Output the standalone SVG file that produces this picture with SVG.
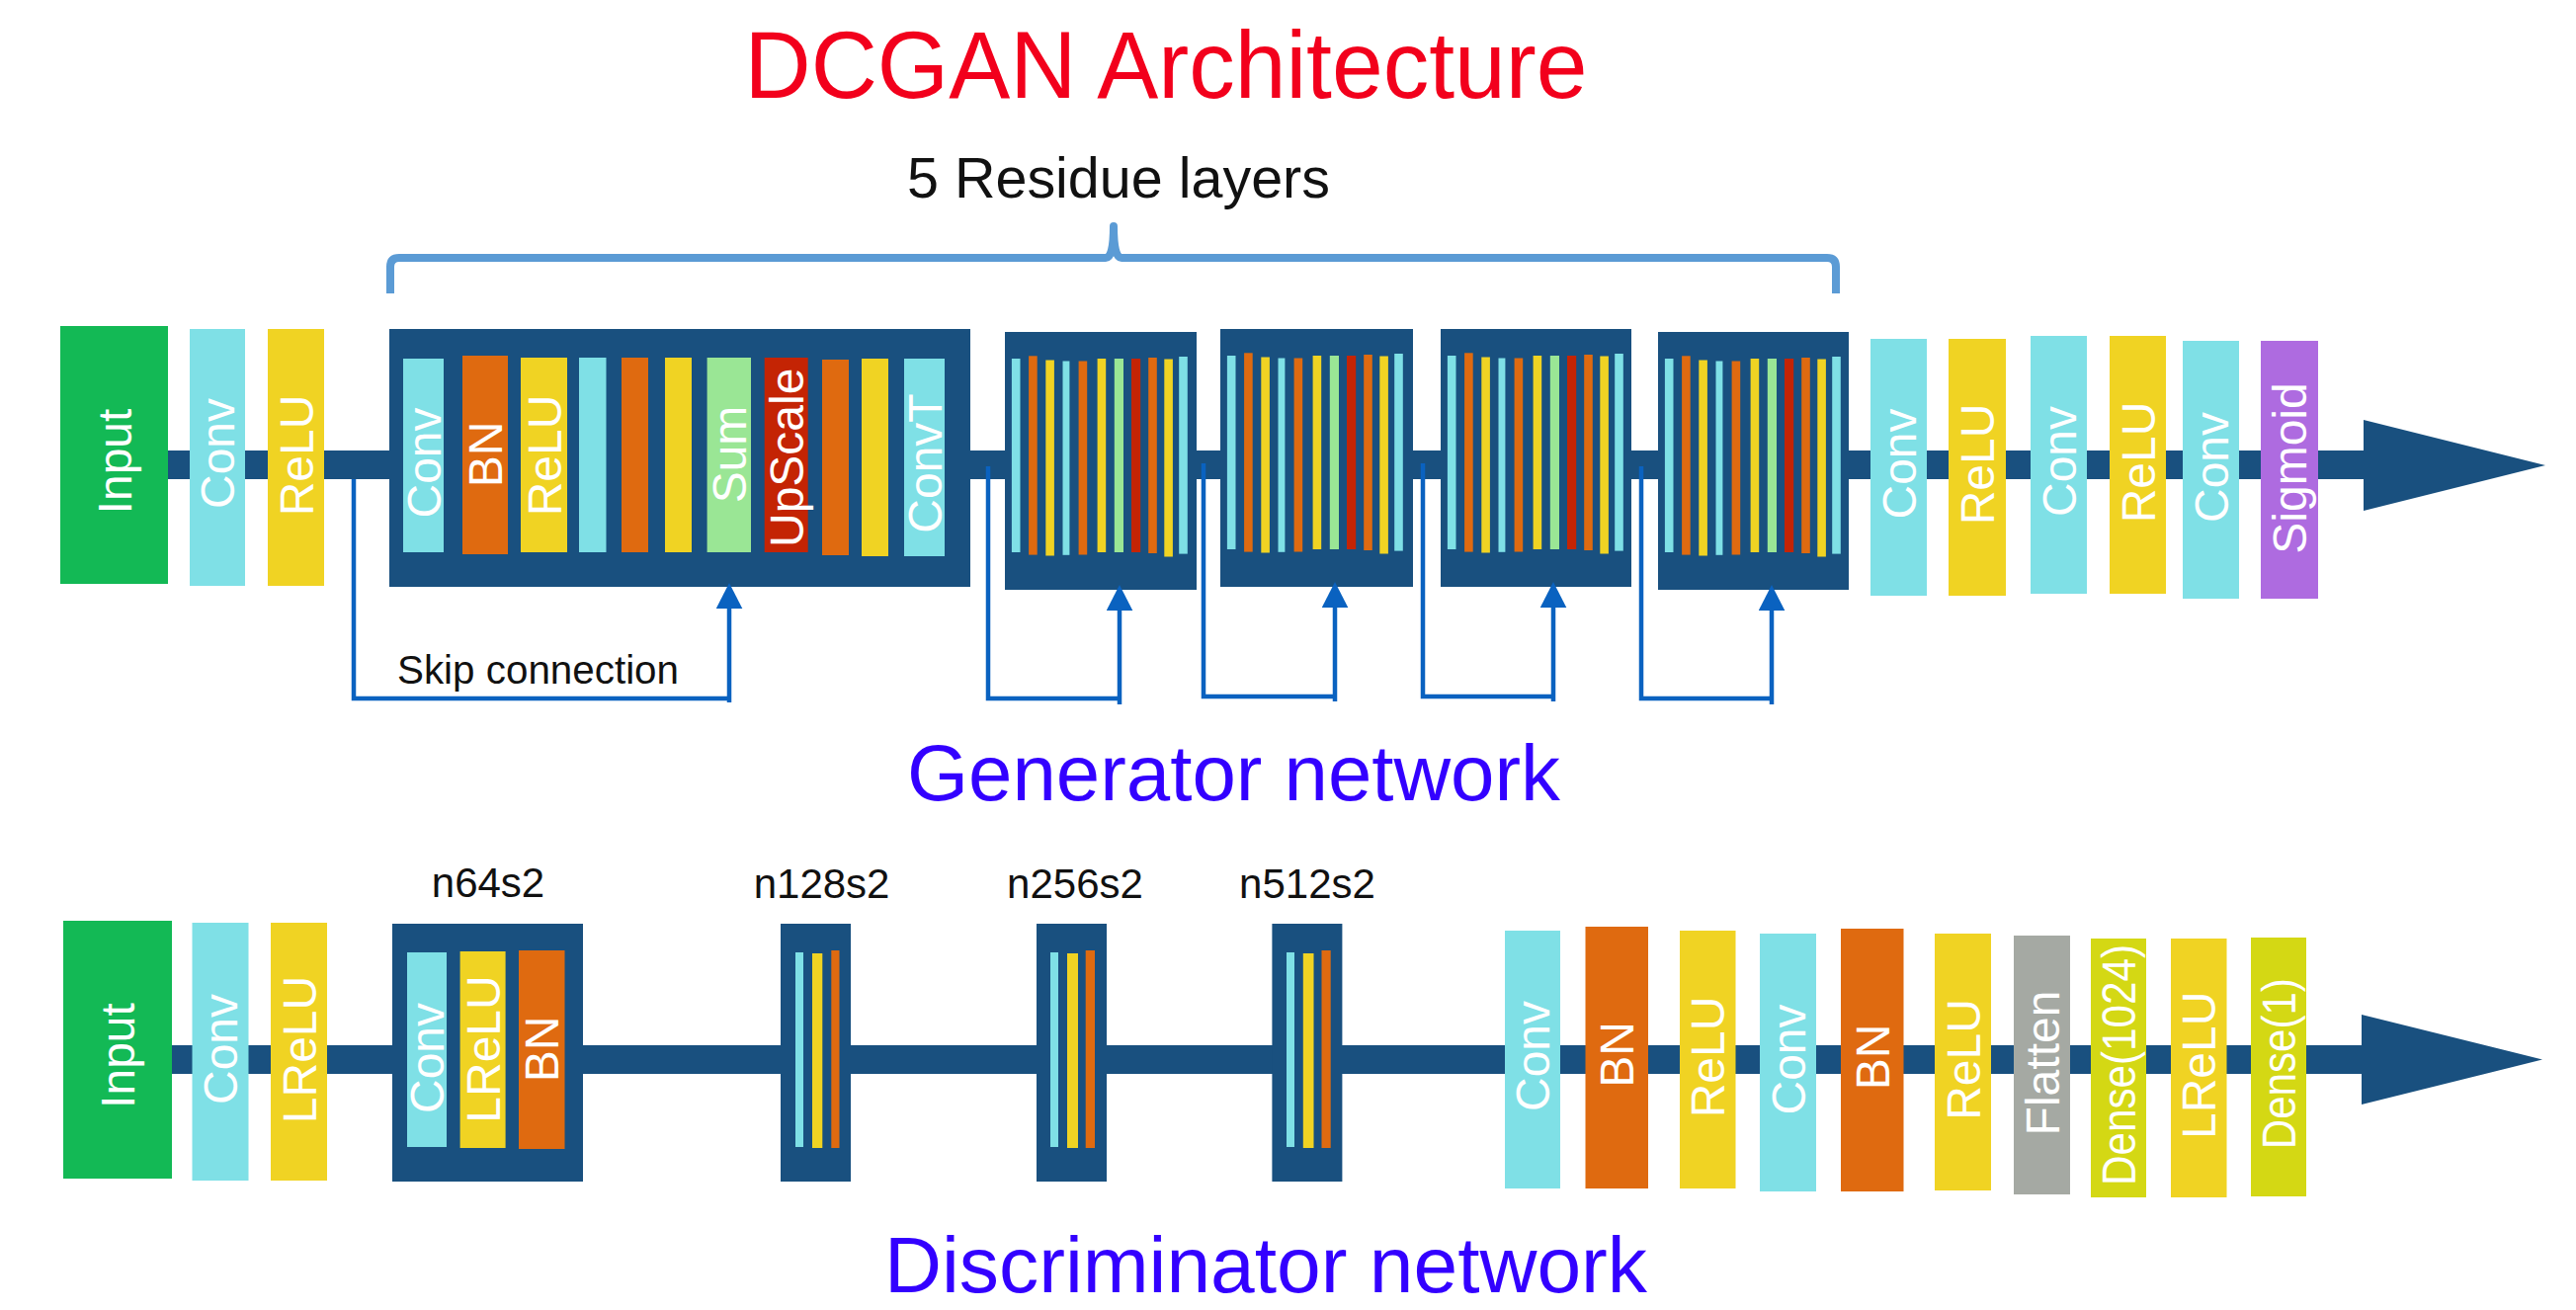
<svg xmlns="http://www.w3.org/2000/svg" xmlns:xlink="http://www.w3.org/1999/xlink" width="2607" height="1326" viewBox="0 0 2607 1326">
<style>
  .green{fill:#13b955}
  .cyan{fill:#7fe0e6}
  .yellow{fill:#f0d323}
  .orange{fill:#df6a10}
  .lgreen{fill:#9ae695}
  .red{fill:#c42404}
  .purple{fill:#ae6be0}
  .gray{fill:#a5a9a3}
  .ygreen{fill:#d4d814}
  .dark{fill:#19507f}
  .lbl{font-family:"Liberation Sans",Arial,sans-serif;font-size:48px;fill:#ffffff;text-anchor:middle}
  .cap{font-family:"Liberation Sans",Arial,sans-serif;fill:#111111}
  .net{font-family:"Liberation Sans",Arial,sans-serif;font-size:80px;fill:#3300ff}
  .skip{fill:none;stroke:#0a62c0;stroke-width:4.5}
</style>
<defs>
  <marker id="skiphead" markerUnits="userSpaceOnUse" markerWidth="28" markerHeight="28" refX="0" refY="13.3" orient="auto">
    <path d="M0,0 L26,13.3 L0,26.6 Z" fill="#0a62c0"/>
  </marker>
  <g id="resbars">
    <rect class="cyan" x="6.9" y="27" width="8.6" height="196"/>
    <rect class="orange" x="24.1" y="24.3" width="8.6" height="201.3"/>
    <rect class="yellow" x="41.3" y="28.5" width="8.6" height="198"/>
    <rect class="cyan" x="58.5" y="29.5" width="6.9" height="196.3"/>
    <rect class="orange" x="74.6" y="29.5" width="8.6" height="196"/>
    <rect class="yellow" x="93.6" y="27" width="8.6" height="196"/>
    <rect class="lgreen" x="110.8" y="27" width="9.2" height="196"/>
    <rect class="red" x="128" y="27" width="9.2" height="196"/>
    <rect class="orange" x="145.2" y="26" width="8.6" height="198"/>
    <rect class="yellow" x="161.3" y="27.5" width="8.6" height="200"/>
    <rect class="cyan" x="176.2" y="25" width="8.6" height="199.6"/>
  </g>
</defs>
<rect width="2607" height="1326" fill="#ffffff"/>

<!-- titles -->
<text x="1180" y="99" font-family="'Liberation Sans',Arial,sans-serif" font-size="96" fill="#f2001c" text-anchor="middle" textLength="853" lengthAdjust="spacingAndGlyphs">DCGAN Architecture</text>
<text class="cap" x="918" y="200" font-size="57" textLength="428" lengthAdjust="spacingAndGlyphs">5 Residue layers</text>
<text class="cap" x="402" y="692" font-size="40" textLength="285" lengthAdjust="spacingAndGlyphs">Skip connection</text>
<text class="net" x="918" y="810" textLength="661" lengthAdjust="spacingAndGlyphs">Generator network</text>
<text class="net" x="895" y="1308" textLength="772" lengthAdjust="spacingAndGlyphs">Discriminator network</text>

<!-- connectors -->
<g id="connectors">
  <rect class="dark" x="120" y="456" width="2274" height="29"/>
  <polygon class="dark" points="2392,425 2576,471 2392,517"/>
  <rect class="dark" x="120" y="1058" width="2272" height="29"/>
  <polygon class="dark" points="2390,1027 2573,1072.5 2390,1118"/>
  <path d="M395,297 V270 Q395,261 404,261 H1119 Q1127,261 1127,229 Q1127,261 1135,261 H1849 Q1858,261 1858,270 V297" fill="none" stroke="#5b9bd5" stroke-width="8" stroke-linejoin="round"/>
</g>

<!-- Generator nodes -->
<g id="g-input"><rect class="green" x="61" y="330" width="109" height="261"/><text class="lbl" transform="translate(132.5,467) rotate(-90)">Input</text></g>
<g id="g-conv1"><rect class="cyan" x="192" y="333" width="56" height="260"/><text class="lbl" transform="translate(237,459) rotate(-90)">Conv</text></g>
<g id="g-relu1"><rect class="yellow" x="271" y="333" width="57" height="260"/><text class="lbl" transform="translate(316.5,461) rotate(-90)">ReLU</text></g>

<g id="g-res1">
  <rect class="dark" x="394" y="333" width="588" height="261"/>
  <rect class="cyan" x="408" y="363" width="41" height="196"/><text class="lbl" transform="translate(445.5,468.5) rotate(-90)">Conv</text>
  <rect class="orange" x="468" y="360" width="46" height="201"/><text class="lbl" transform="translate(508,460) rotate(-90)">BN</text>
  <rect class="yellow" x="527" y="362" width="47" height="197"/><text class="lbl" transform="translate(567.5,461) rotate(-90)">ReLU</text>
  <rect class="cyan" x="586" y="362" width="27.5" height="197"/>
  <rect class="orange" x="629" y="362" width="27" height="197"/>
  <rect class="yellow" x="673" y="362" width="27" height="197"/>
  <rect class="lgreen" x="715.6" y="362" width="44.4" height="197"/><text class="lbl" transform="translate(755,460) rotate(-90)">Sum</text>
  <rect class="red" x="773.7" y="362" width="44" height="197"/><text class="lbl" transform="translate(812.7,463.3) rotate(-90)">UpScale</text>
  <rect class="orange" x="832" y="364" width="27" height="198"/>
  <rect class="yellow" x="872" y="363" width="27" height="200"/>
  <rect class="cyan" x="915" y="363" width="41" height="200"/><text class="lbl" transform="translate(952.5,469) rotate(-90)">ConvT</text>
</g>
<g id="g-res2"><rect class="dark" x="1017" y="336" width="194" height="261"/><use xlink:href="#resbars" href="#resbars" x="1017" y="336"/></g>
<g id="g-res3"><rect class="dark" x="1235" y="333" width="195" height="261"/><use xlink:href="#resbars" href="#resbars" x="1235" y="333"/></g>
<g id="g-res4"><rect class="dark" x="1458" y="333" width="193" height="261"/><use xlink:href="#resbars" href="#resbars" x="1458" y="333"/></g>
<g id="g-res5"><rect class="dark" x="1678" y="336" width="193" height="261"/><use xlink:href="#resbars" href="#resbars" x="1678" y="336"/></g>

<g id="g-conv2"><rect class="cyan" x="1893" y="343" width="57" height="260"/><text class="lbl" transform="translate(1938.5,469.5) rotate(-90)">Conv</text></g>
<g id="g-relu2"><rect class="yellow" x="1972" y="343" width="58" height="260"/><text class="lbl" transform="translate(2018,470) rotate(-90)">ReLU</text></g>
<g id="g-conv3"><rect class="cyan" x="2055" y="340" width="57" height="261"/><text class="lbl" transform="translate(2100.5,467) rotate(-90)">Conv</text></g>
<g id="g-relu3"><rect class="yellow" x="2135" y="340" width="57" height="261"/><text class="lbl" transform="translate(2180.5,468) rotate(-90)">ReLU</text></g>
<g id="g-conv4"><rect class="cyan" x="2209" y="345" width="57" height="261"/><text class="lbl" transform="translate(2254.5,473) rotate(-90)">Conv</text></g>
<g id="g-sigmoid"><rect class="purple" x="2288" y="345" width="58" height="261"/><text class="lbl" transform="translate(2334,474) rotate(-90)">Sigmoid</text></g>

<!-- skip connections -->
<g id="skip-connectors">
  <path class="skip" d="M358,485 V707 H740 M738,711 V616" marker-end="url(#skiphead)"/>
  <path class="skip" d="M1000,472 V707 H1135 M1133,713 V618" marker-end="url(#skiphead)"/>
  <path class="skip" d="M1218,469 V705 H1353 M1351,710 V615" marker-end="url(#skiphead)"/>
  <path class="skip" d="M1440,469 V705 H1574 M1572,710 V615" marker-end="url(#skiphead)"/>
  <path class="skip" d="M1661,472 V707 H1795 M1793,713 V618" marker-end="url(#skiphead)"/>
</g>

<!-- Discriminator nodes -->
<g id="d-input"><rect class="green" x="64" y="932" width="110" height="261"/><text class="lbl" transform="translate(136,1068.5) rotate(-90)">Input</text></g>
<g id="d-conv1"><rect class="cyan" x="194.5" y="934" width="57" height="261"/><text class="lbl" transform="translate(240,1062) rotate(-90)">Conv</text></g>
<g id="d-lrelu1"><rect class="yellow" x="274" y="934" width="57" height="261"/><text class="lbl" transform="translate(319.5,1062.5) rotate(-90)">LReLU</text></g>

<g id="d-n64s2">
  <text class="cap" x="494" y="908" font-size="42" text-anchor="middle">n64s2</text>
  <rect class="dark" x="397" y="935" width="193" height="261"/>
  <rect class="cyan" x="412" y="964" width="40" height="197"/><text class="lbl" transform="translate(449,1071) rotate(-90)">Conv</text>
  <rect class="yellow" x="465.6" y="963" width="46" height="199"/><text class="lbl" transform="translate(505.6,1062) rotate(-90)">LReLU</text>
  <rect class="orange" x="525" y="962" width="46.5" height="201"/><text class="lbl" transform="translate(565.2,1062) rotate(-90)">BN</text>
</g>
<g id="d-n128s2">
  <text class="cap" x="831.6" y="909" font-size="42" text-anchor="middle">n128s2</text>
  <rect class="dark" x="790" y="935" width="71" height="261"/>
  <rect class="cyan" x="805" y="964" width="8" height="197"/>
  <rect class="yellow" x="822" y="965" width="10.3" height="197"/>
  <rect class="orange" x="841.3" y="962" width="8.2" height="200"/>
</g>
<g id="d-n256s2">
  <text class="cap" x="1088" y="909" font-size="42" text-anchor="middle">n256s2</text>
  <rect class="dark" x="1049" y="935" width="71" height="261"/>
  <rect class="cyan" x="1063" y="964" width="8" height="197"/>
  <rect class="yellow" x="1080" y="965" width="11" height="197"/>
  <rect class="orange" x="1098.7" y="962" width="9.3" height="200"/>
</g>
<g id="d-n512s2">
  <text class="cap" x="1323" y="909" font-size="42" text-anchor="middle">n512s2</text>
  <rect class="dark" x="1287.4" y="935" width="71" height="261"/>
  <rect class="cyan" x="1302" y="964" width="8" height="197"/>
  <rect class="yellow" x="1318.8" y="965" width="10.7" height="197"/>
  <rect class="orange" x="1337.5" y="962" width="9.2" height="200"/>
</g>

<g id="d-conv2"><rect class="cyan" x="1523" y="942" width="56" height="261"/><text class="lbl" transform="translate(1568,1069) rotate(-90)">Conv</text></g>
<g id="d-bn1"><rect class="orange" x="1604.5" y="938" width="63.5" height="265"/><text class="lbl" transform="translate(1653,1067.5) rotate(-90)">BN</text></g>
<g id="d-relu1"><rect class="yellow" x="1700" y="942" width="56.5" height="261"/><text class="lbl" transform="translate(1745,1070) rotate(-90)">ReLU</text></g>
<g id="d-conv3"><rect class="cyan" x="1781" y="945" width="57" height="261"/><text class="lbl" transform="translate(1826.5,1072.5) rotate(-90)">Conv</text></g>
<g id="d-bn2"><rect class="orange" x="1863" y="940" width="63.5" height="266"/><text class="lbl" transform="translate(1911.7,1070) rotate(-90)">BN</text></g>
<g id="d-relu2"><rect class="yellow" x="1958" y="945" width="57" height="260"/><text class="lbl" transform="translate(2003.5,1072.5) rotate(-90)">ReLU</text></g>
<g id="d-flatten"><rect class="gray" x="2038" y="947" width="57" height="262"/><text class="lbl" transform="translate(2083.5,1076) rotate(-90)">Flatten</text></g>
<g id="d-dense1024"><rect class="ygreen" x="2116" y="950" width="56" height="262"/><text class="lbl" transform="translate(2161,1078) rotate(-90)" textLength="244" lengthAdjust="spacingAndGlyphs">Dense(1024)</text></g>
<g id="d-lrelu2"><rect class="yellow" x="2197" y="950" width="56.5" height="262"/><text class="lbl" transform="translate(2242,1078.3) rotate(-90)">LReLU</text></g>
<g id="d-dense1"><rect class="ygreen" x="2278" y="949" width="56" height="262"/><text class="lbl" transform="translate(2323,1076.7) rotate(-90)" textLength="173" lengthAdjust="spacingAndGlyphs">Dense(1)</text></g>
</svg>
